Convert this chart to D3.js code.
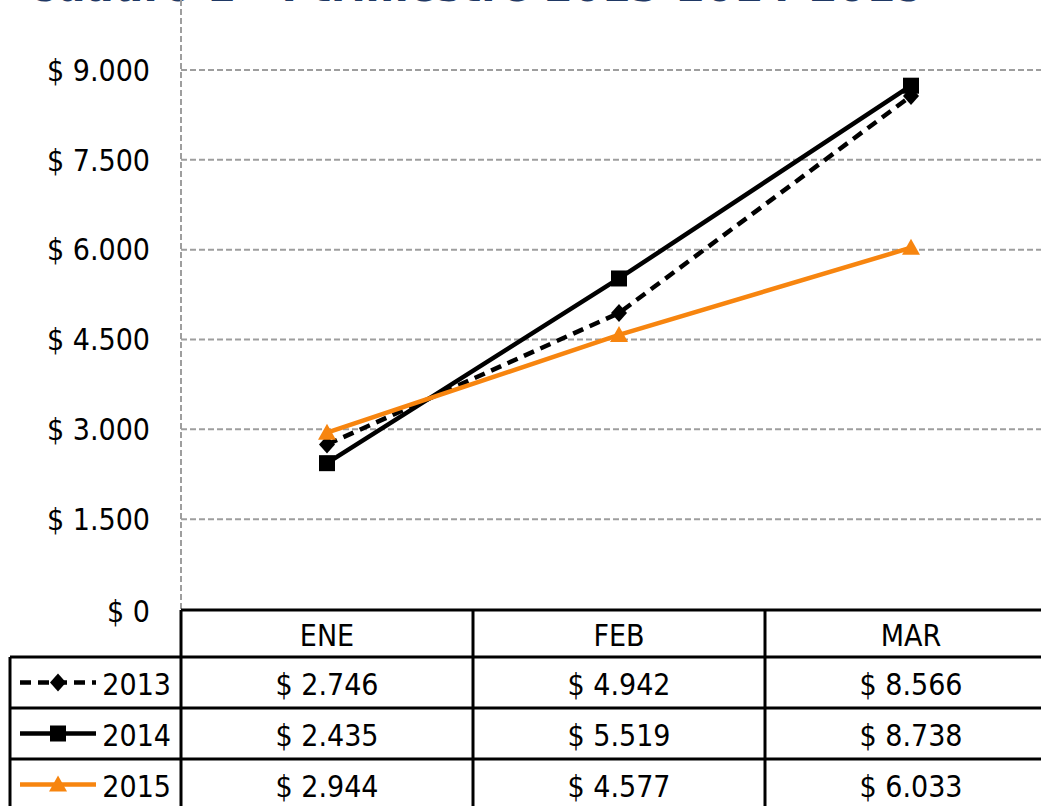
<!DOCTYPE html>
<html>
<head>
<meta charset="utf-8">
<script src="https://cdn.jsdelivr.net/npm/d3@7"></script>
<style>
  body { margin: 0; background: #fff; }
  svg { display: block; font-family: "DejaVu Sans Condensed", "DejaVu Sans", sans-serif; font-stretch: condensed; }
</style>
</head>
<body>
<div id="chart"></div>
<script>
// Data
var months = ["ENE", "FEB", "MAR"];
var years = ["2013", "2014", "2015"];
var values2013 = [2746, 4942, 8566];
var values2014 = [2435, 5519, 8738];
var values2015 = [2944, 4577, 6033];
var yTicks = [0, 1500, 3000, 4500, 6000, 7500, 9000, 10500];
var titleText = "Cuadro 1 - I trimestre 2013-2014-2015";

var series = [
  { name: years[0], values: values2013, color: "#000", dash: "11,7", marker: "diamond" },
  { name: years[1], values: values2014, color: "#000", dash: null, marker: "square" },
  { name: years[2], values: values2015, color: "#F7850F", dash: null, marker: "triangle" }
];

function fmt(v) {
  return "$ " + d3.format(",")(v).replace(/,/g, ".");
}

var svg = d3.select("#chart").append("svg")
  .attr("width", 1041)
  .attr("height", 806);

var plotLeft = 181, colW = 292, yZero = 609;
var tableTop = 610, headH = 47, rowH = 51;
var fontSize = "30px";

var x = d3.scaleBand().domain(months).range([plotLeft, plotLeft + colW * months.length]);
var y = d3.scaleLinear().domain([0, 9000]).range([yZero, 70]);

// Title (cut off at top, as in the source)
svg.append("text")
  .attr("x", 924)
  .attr("y", 1)
  .attr("text-anchor", "end")
  .attr("font-size", "46px")
  .attr("font-weight", "bold")
  .attr("fill", "#1F3864")
  .text(titleText);

// Gridlines
svg.append("g").selectAll("line")
  .data(yTicks.filter(function (d) { return d > 0; }))
  .enter().append("line")
  .attr("x1", plotLeft)
  .attr("x2", plotLeft + colW * months.length)
  .attr("y1", function (d) { return y(d); })
  .attr("y2", function (d) { return y(d); })
  .attr("stroke", "#9E9E9E")
  .attr("stroke-width", 2)
  .attr("stroke-dasharray", "6,3");

// Y axis line
svg.append("line")
  .attr("x1", plotLeft).attr("x2", plotLeft)
  .attr("y1", 0).attr("y2", yZero)
  .attr("stroke", "#9E9E9E")
  .attr("stroke-width", 2)
  .attr("stroke-dasharray", "6,3");

// Y tick labels
svg.append("g").selectAll("text")
  .data(yTicks.filter(function (d) { return d <= 9000; }))
  .enter().append("text")
  .attr("x", 150)
  .attr("y", function (d) { return y(d) + (d === 0 ? 2 : 0); })
  .attr("dy", "0.36em")
  .attr("text-anchor", "end")
  .attr("font-size", fontSize)
  .attr("fill", "#000")
  .text(fmt);

// Lines
var line = d3.line()
  .x(function (d, i) { return x(months[i]) + x.bandwidth() / 2; })
  .y(function (d) { return y(d); });

function drawMarker(g, type, color) {
  if (type === "square") {
    g.append("rect").attr("x", -8).attr("y", -8).attr("width", 16).attr("height", 16).attr("fill", color);
  } else if (type === "triangle") {
    g.append("path").attr("d", "M0,-9L9,7L-9,7Z").attr("fill", color);
  } else {
    g.append("path").attr("d", "M0,-9L8,0L0,9L-8,0Z").attr("fill", color);
  }
}

series.forEach(function (s) {
  svg.append("path")
    .datum(s.values)
    .attr("d", line)
    .attr("fill", "none")
    .attr("stroke", s.color)
    .attr("stroke-width", 4.5)
    .attr("stroke-dasharray", s.dash);
});

series.forEach(function (s) {
  s.values.forEach(function (v, i) {
    var g = svg.append("g")
      .attr("transform", "translate(" + (x(months[i]) + x.bandwidth() / 2) + "," + y(v) + ")");
    drawMarker(g, s.marker, s.color);
  });
});

// Data table
var table = svg.append("g");
var tableRight = plotLeft + colW * months.length + 20;
var legendLeft = 10;

// header row
table.append("line")
  .attr("x1", plotLeft).attr("x2", tableRight)
  .attr("y1", tableTop).attr("y2", tableTop);
months.forEach(function (m) {
  table.append("text")
    .attr("x", x(m) + x.bandwidth() / 2)
    .attr("y", tableTop + headH / 2 + 2)
    .attr("dy", "0.36em")
    .attr("text-anchor", "middle")
    .attr("font-size", fontSize)
    .text(m);
});

series.forEach(function (s, r) {
  var top = tableTop + headH + r * rowH;
  table.append("line")
    .attr("x1", legendLeft).attr("x2", tableRight)
    .attr("y1", top).attr("y2", top);
  var cy = top + rowH / 2;
  // legend key
  table.append("line")
    .attr("x1", 20).attr("x2", 96)
    .attr("y1", cy).attr("y2", cy)
    .attr("stroke", s.color)
    .attr("stroke-width", 4.5)
    .attr("stroke-dasharray", s.dash);
  var g = table.append("g").attr("transform", "translate(58," + cy + ")");
  drawMarker(g, s.marker, s.color);
  table.append("text")
    .attr("x", 171)
    .attr("y", cy + 2)
    .attr("dy", "0.36em")
    .attr("text-anchor", "end")
    .attr("font-size", fontSize)
    .text(s.name);
  s.values.forEach(function (v, i) {
    table.append("text")
      .attr("x", x(months[i]) + x.bandwidth() / 2)
      .attr("y", cy + 2)
      .attr("dy", "0.36em")
      .attr("text-anchor", "middle")
      .attr("font-size", fontSize)
      .text(fmt(v));
  });
});

// vertical table lines
var bottom = 830;
table.append("line")
  .attr("x1", legendLeft).attr("x2", legendLeft)
  .attr("y1", tableTop + headH).attr("y2", bottom);
months.forEach(function (m) {
  table.append("line")
    .attr("x1", x(m)).attr("x2", x(m))
    .attr("y1", tableTop).attr("y2", bottom);
});
table.append("line")
  .attr("x1", x.range()[1]).attr("x2", x.range()[1])
  .attr("y1", tableTop).attr("y2", bottom);

table.selectAll("line")
  .filter(function () { return !d3.select(this).attr("stroke"); })
  .attr("stroke", "#000")
  .attr("stroke-width", 3);
</script>
</body>
</html>
